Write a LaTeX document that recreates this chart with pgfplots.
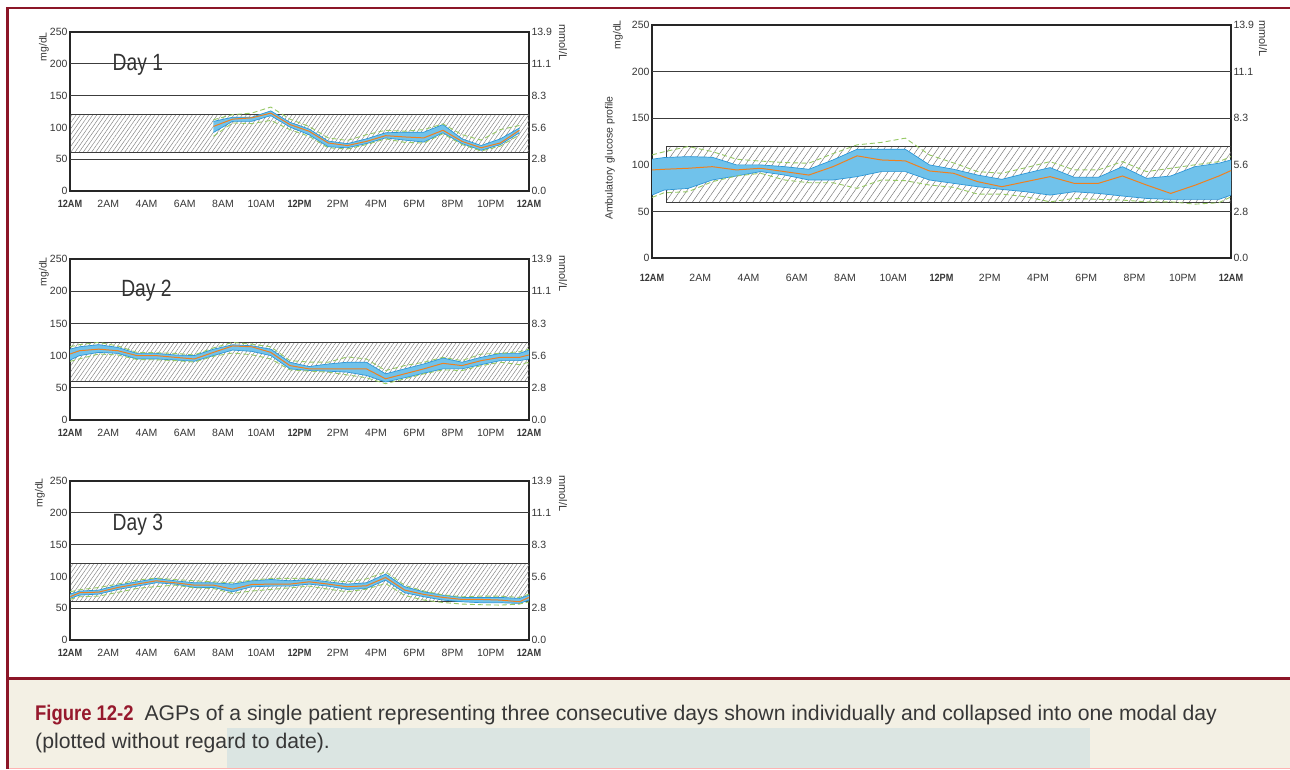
\documentclass[border=0pt]{standalone}
\usepackage{fontspec}
\setmainfont{Liberation Sans}[BoldFeatures={FakeStretch=0.87}]
\newfontfamily\condfont{Liberation Sans}[FakeStretch=0.82]
\usepackage{pgfplots}
\pgfplotsset{compat=1.18}
\usepackage{pgfplotstable}
\usetikzlibrary{patterns.meta}

\definecolor{frame}{RGB}{140,22,40}
\definecolor{figred}{RGB}{150,25,45}
\definecolor{capbg}{RGB}{243,240,228}
\definecolor{capbox}{RGB}{219,229,226}
\definecolor{bandfill}{RGB}{112,194,235}
\definecolor{bandedge}{RGB}{45,150,215}
\definecolor{med}{RGB}{240,128,30}
\definecolor{pct}{RGB}{150,200,100}
\definecolor{gridc}{RGB}{60,60,60}
\definecolor{txt}{RGB}{55,55,55}

\pgfplotstableread{
h p10 p25 p50 p75 p90
7.5 86 92 101.5 109.5 112
8.5 107 109.5 113 116 120
9.5 106 109.5 115 116 122.5
10.5 111 118.5 122.5 126 132
11.5 96.5 100.5 104.5 108 113
12.5 86 88.5 94 97.5 101.5
13.5 68 69.5 75.5 78.5 83.5
14.5 66 68 71.5 74.5 79.5
15.5 73 74.5 78 82 88.5
16.5 82 83.5 87 91.5 95.5
17.5 76.5 80 85 92.5 94
18.5 75.5 77 83.5 92.5 96.5
19.5 90 91.5 95.5 104.5 105.5
20.5 73 74.5 78 82 88.5
21.5 63 64 68 71.5 80
22.5 70.5 73 75.5 82 96.5
23.5 88.5 91.5 95.5 99 103
}\dayone

\pgfplotstableread{
h p10 p25 p50 p75 p90
0 91 93 102.5 110 113.7
0.5 95 100 107.6 113.7 117
1.5 102.5 105 110 117 120.5
2.5 101 103.5 107.6 112.7 115
3.5 94 94.8 100 103.5 105
4.5 93.5 94.8 100 103.5 104.5
5.5 92.2 93.2 97.3 101 103.5
6.5 90 91.2 94.8 100 101
7.5 99 100 105 110 112
8.5 104 108.6 115 116.8 120.4
9.5 101.4 106.6 113.7 115.3 117.8
10.5 94.8 100 105 110 113.7
11.5 77.9 79.4 84.5 89.7 92.2
12.5 76 76.8 79.4 83 90
13.5 74.3 75.8 79.4 87 89.7
14.5 70 74.3 79.4 89.7 98
15.5 65.6 69.2 79.4 89.7 94.8
16.5 56.4 59 64 71.7 76.8
17.5 64 65.6 71.7 79.4 84.5
18.5 71.7 72.7 79.4 87 89.7
19.5 77.9 79.4 88 96.3 97.3
20.5 76.8 79.4 84.5 89.7 92.2
21.5 84.5 86 92.2 97.3 102.5
22.5 89.7 92.2 97.3 103.5 103.5
23.5 86 92.2 97.3 103.5 106
24 89.7 94.8 101 108.6 110
}\daytwo

\pgfplotstableread{
h p10 p25 p50 p75 p90
0 64 65.4 68 72.2 75.8
0.5 68 70.6 74.3 76.9 79
1.5 69 72.2 75.3 78.5 82.6
2.5 75 79.5 82.6 86.3 88
3.5 81 84.7 87.9 91.5 94.1
4.5 84 90 93.1 96.8 97.5
5.5 86.3 87.9 90 93.1 95
6.5 82 82.6 86.3 90 93.1
7.5 81 82.6 86.3 90 91.5
8.5 73.2 75.8 80 87.9 90
9.5 77 83.7 87.3 93.1 94
10.5 79.5 84.7 87.9 95.2 96.8
11.5 82 84.7 87.9 93.1 96.8
12.5 84.7 87.9 91.5 95.2 96.8
13.5 80 84.7 87.9 91.5 94
14.5 75.8 79.5 83.7 87.9 91.5
15.5 80 81 85.3 90 96
16.5 88.9 94.1 98.3 103.6 107.2
17.5 70 74.3 78.5 83.7 86
18.5 62.8 68 71.7 75.8 77
19.5 59 62.8 67 70.6 71
20.5 56.5 60.1 63.8 67 68
21.5 55.5 58.6 63.8 67 69
22.5 54.9 58.6 62.8 67 69
23.5 56.5 57.5 60.1 65.4 67
24 60.1 62.8 67 70.6 72.2
}\daythree

\pgfplotstableread{
h p10 p25 p50 p75 p90
0 65 67.5 94.5 106 110.6
0.5 70 72.9 95.2 107.8 114
1.5 71.1 74.7 96.3 108.8 119.6
2.5 81.9 83.7 98 108.1 114.2
3.5 88 88 94.5 99.9 106
4.5 90.9 92.7 96.3 99.9 104
5.5 83.7 89 92.7 98 102.4
6.5 80.8 83.7 89 95.2 101.7
7.5 80.8 83.7 98 105.2 112
8.5 74.7 87.3 109.6 116.7 121.4
9.5 83.7 92.7 105.2 116.7 124
10.5 83 92.7 104.2 116.7 128.6
11.5 78.3 83.7 93.4 99.9 110.6
12.5 75.8 80.1 90.9 95.2 102
13.5 68.6 76.5 81.9 89 92.7
14.5 68.6 73.6 76.5 84.4 90.9
15.5 65.7 71.1 81.9 90.9 97
16.5 60.3 67.5 87.3 97 103.4
17.5 63.9 71.1 80.1 86.6 94.5
18.5 62.9 69.3 80.1 86.6 94.5
19.5 62.1 66.5 88 98 103.4
20.5 60.3 63.9 78.3 85.5 92.7
21.5 60.3 62.9 69.3 88 96.3
22.5 57.8 62.9 78 98 100
23.5 59.3 62.9 88 101.7 103.4
24 65.7 67.5 93.8 105.2 108.8
}\agpall

\pgfplotsset{
  agpbase/.style={
    scale only axis, xmin=0, xmax=24, ymin=0, ymax=250,
    axis line style={draw=black!85, line width=1.3pt},
    tick style={draw=none},
    tick label style={font=\fontsize{10.5}{12}\selectfont, text=txt},
    /pgf/number format/assume math mode=true,
  },
  agp/.style={agpbase,
    xtick={0,2,...,24},
    xticklabels={\textbf{12AM},2AM,4AM,6AM,8AM,10AM,\textbf{12PM},2PM,4PM,6PM,8PM,10PM,\textbf{12AM}},
    ytick={0,50,100,150,200,250},
    yticklabels={0,50,100,150,200,250},
    ytick pos=left, xtick pos=bottom,
    yticklabel style={xshift=1pt},
    xticklabel style={yshift=-6pt},
  },
  agpright/.style={agpbase,
    axis x line=none, axis y line*=right,
    y axis line style={draw=none},
    ytick={0,50,100,150,200,250},
    yticklabels={0.0,2.8,5.6,8.3,11.1,13.9},
    yticklabel style={xshift=-1pt},
  },
  gridl/.style={draw=gridc, line width=1.2pt},
  pctl/.style={draw=pct, line width=0.9pt, dash pattern=on 5pt off 3pt},
  medl/.style={draw=med, line width=1pt},
  edgel/.style={draw=bandedge, line width=0.7pt},
  hatchd/.style={draw=gridc, line width=1pt, pattern={Lines[angle=55,distance=3.4pt,line width=0.45pt]}, pattern color=black!50},
}

\begin{document}
\begin{tikzpicture}
\fill[white] (0,0) rectangle (1290pt,-769pt);
\fill[capbg] (8pt,-679pt) rectangle (1290pt,-769pt);
\fill[capbox] (227pt,-728pt) rectangle (1090pt,-769pt);
\draw[frame, line width=2.5pt] (7pt,-8pt) -- (1290pt,-8pt);
\draw[frame, line width=2.5pt] (7.5pt,-7pt) -- (7.5pt,-769pt);
\draw[frame, line width=3pt] (7pt,-678pt) -- (1290pt,-678pt);
\draw[red!30!white, line width=1pt] (9pt,-768.5pt) -- (1290pt,-768.5pt);

% ---------- Day 1
\begin{axis}[agp, at={(70pt,-191pt)}, anchor=south west, width=459pt, height=159pt]
  \addplot[hatchd] coordinates {(0,60) (24,60) (24,120) (0,120)} -- cycle;
  \addplot[gridl] coordinates {(0,50) (24,50)};
  \addplot[gridl] coordinates {(0,150) (24,150)};
  \addplot[gridl] coordinates {(0,200) (24,200)};
  \addplot[draw=none, stack plots=y] table[x=h,y=p25]{\dayone};
  \addplot[fill=bandfill, draw=none, stack plots=y] table[x=h,y expr=\thisrow{p75}-\thisrow{p25}]{\dayone} \closedcycle;
  \addplot[edgel] table[x=h,y=p75]{\dayone};
  \addplot[edgel] table[x=h,y=p25]{\dayone};
  \addplot[pctl] table[x=h,y=p90]{\dayone};
  \addplot[pctl] table[x=h,y=p10]{\dayone};
  \addplot[medl] table[x=h,y=p50]{\dayone};
  \node[font=\condfont\fontsize{23.5}{24}\selectfont, text=black!80] at (axis cs:3.55,198) {Day 1};
\end{axis}
\begin{axis}[agpright, at={(70pt,-191pt)}, anchor=south west, width=459pt, height=159pt]
  \addplot[draw=none] coordinates {(0,0) (24,250)};
\end{axis}

% ---------- Day 2
\begin{axis}[agp, at={(70pt,-420pt)}, anchor=south west, width=459pt, height=161pt]
  \addplot[hatchd] coordinates {(0,60) (24,60) (24,120) (0,120)} -- cycle;
  \addplot[gridl] coordinates {(0,50) (24,50)};
  \addplot[gridl] coordinates {(0,150) (24,150)};
  \addplot[gridl] coordinates {(0,200) (24,200)};
  \addplot[draw=none, stack plots=y] table[x=h,y=p25]{\daytwo};
  \addplot[fill=bandfill, draw=none, stack plots=y] table[x=h,y expr=\thisrow{p75}-\thisrow{p25}]{\daytwo} \closedcycle;
  \addplot[edgel] table[x=h,y=p75]{\daytwo};
  \addplot[edgel] table[x=h,y=p25]{\daytwo};
  \addplot[pctl] table[x=h,y=p90]{\daytwo};
  \addplot[pctl] table[x=h,y=p10]{\daytwo};
  \addplot[medl] table[x=h,y=p50]{\daytwo};
  \node[font=\condfont\fontsize{23.5}{24}\selectfont, text=black!80] at (axis cs:4.0,200) {Day 2};
\end{axis}
\begin{axis}[agpright, at={(70pt,-420pt)}, anchor=south west, width=459pt, height=161pt]
  \addplot[draw=none] coordinates {(0,0) (24,250)};
\end{axis}

% ---------- Day 3
\begin{axis}[agp, at={(70pt,-640pt)}, anchor=south west, width=459pt, height=159pt]
  \addplot[hatchd] coordinates {(0,60) (24,60) (24,120) (0,120)} -- cycle;
  \addplot[gridl] coordinates {(0,50) (24,50)};
  \addplot[gridl] coordinates {(0,150) (24,150)};
  \addplot[gridl] coordinates {(0,200) (24,200)};
  \addplot[draw=none, stack plots=y] table[x=h,y=p25]{\daythree};
  \addplot[fill=bandfill, draw=none, stack plots=y] table[x=h,y expr=\thisrow{p75}-\thisrow{p25}]{\daythree} \closedcycle;
  \addplot[edgel] table[x=h,y=p75]{\daythree};
  \addplot[edgel] table[x=h,y=p25]{\daythree};
  \addplot[pctl] table[x=h,y=p90]{\daythree};
  \addplot[pctl] table[x=h,y=p10]{\daythree};
  \addplot[medl] table[x=h,y=p50]{\daythree};
  \node[font=\condfont\fontsize{23.5}{24}\selectfont, text=black!80] at (axis cs:3.55,182) {Day 3};
\end{axis}
\begin{axis}[agpright, at={(70pt,-640pt)}, anchor=south west, width=459pt, height=159pt]
  \addplot[draw=none] coordinates {(0,0) (24,250)};
\end{axis}

% ---------- Modal day
\begin{axis}[agp, at={(652pt,-258pt)}, anchor=south west, width=579pt, height=233pt, xticklabel style={yshift=-7pt}]
  \addplot[draw=gridc, line width=1pt, pattern={Lines[angle=55,distance=5.5pt,line width=0.45pt]}, pattern color=black!55] coordinates {(0.6,60) (24,60) (24,120) (0.6,120)} -- cycle;
  \addplot[gridl] coordinates {(0,50) (24,50)};
  \addplot[gridl] coordinates {(0,150) (24,150)};
  \addplot[gridl] coordinates {(0,200) (24,200)};
  \addplot[draw=none, stack plots=y] table[x=h,y=p25]{\agpall};
  \addplot[fill=bandfill, draw=none, stack plots=y] table[x=h,y expr=\thisrow{p75}-\thisrow{p25}]{\agpall} \closedcycle;
  \addplot[edgel] table[x=h,y=p75]{\agpall};
  \addplot[edgel] table[x=h,y=p25]{\agpall};
  \addplot[pctl] table[x=h,y=p90]{\agpall};
  \addplot[pctl] table[x=h,y=p10]{\agpall};
  \addplot[medl] table[x=h,y=p50]{\agpall};
\end{axis}
\begin{axis}[agpright, at={(652pt,-258pt)}, anchor=south west, width=579pt, height=233pt]
  \addplot[draw=none] coordinates {(0,0) (24,250)};
\end{axis}

% ---------- unit labels
\begin{scope}[every node/.style={font=\fontsize{10.5}{12}\selectfont, text=txt, inner sep=0pt}]
\node[rotate=90, anchor=east] at (44pt,-32pt) {mg/dL};
\node[rotate=90, anchor=east] at (44pt,-257pt) {mg/dL};
\node[rotate=90, anchor=east] at (40pt,-478pt) {mg/dL};
\node[rotate=90, anchor=east] at (618pt,-20pt) {mg/dL};
\node[rotate=90, anchor=center] at (610pt,-158pt) {Ambulatory glucose profile};
\node[rotate=-90, anchor=west, font=\fontsize{11}{12}\selectfont] at (563pt,-24pt) {mmol/L};
\node[rotate=-90, anchor=west, font=\fontsize{11}{12}\selectfont] at (563pt,-255pt) {mmol/L};
\node[rotate=-90, anchor=west, font=\fontsize{11}{12}\selectfont] at (563pt,-475pt) {mmol/L};
\node[rotate=-90, anchor=west, font=\fontsize{11}{12}\selectfont] at (1263pt,-20pt) {mmol/L};
\end{scope}

% ---------- caption
\node[anchor=base west, inner sep=0pt, font=\fontsize{21.2}{26}\selectfont, text=txt] at (35pt,-720pt)
  {\textcolor{figred}{\textbf{Figure 12-2}}\hspace{11pt}AGPs of a single patient representing three consecutive days shown individually and collapsed into one modal day};
\node[anchor=base west, inner sep=0pt, font=\fontsize{21.2}{26}\selectfont, text=txt] at (35pt,-748pt)
  {(plotted without regard to date).};
\pgfresetboundingbox
\path (0,0) rectangle (1290pt,-769pt);
\end{tikzpicture}
\end{document}
